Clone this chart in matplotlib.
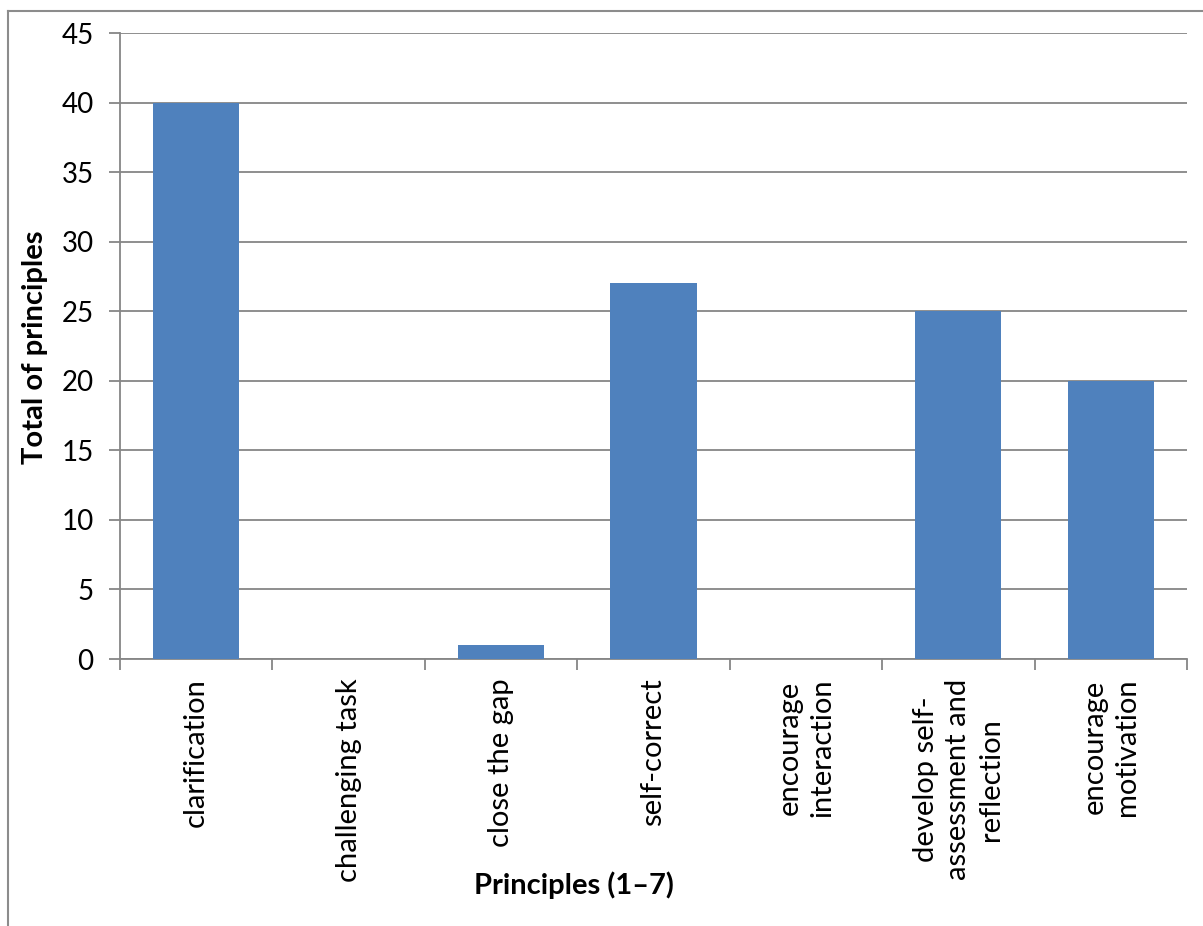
import matplotlib
matplotlib.use("Agg")
import matplotlib.pyplot as plt
from matplotlib.lines import Line2D

categories = ["clarification", "challenging task", "close the gap", "self-correct",
              "encourage\ninteraction", "develop self-\nassessment and\nreflection",
              "encourage\nmotivation"]
values = [40, 0, 1, 27, 0, 25, 20]
yticks = [0, 5, 10, 15, 20, 25, 30, 35, 40, 45]

plt.rcParams['font.family'] = ['Lato', 'DejaVu Sans']

W, H = 1203, 926
fig = plt.figure(figsize=(W/100, H/100), dpi=100)
L, R, T, B = 120, 1187, 33, 659
ax = fig.add_axes([L/W, 1-B/H, (R-L)/W, (B-T)/H])

grid_c = '#868686'
x = list(range(len(categories)))
ax.bar(x, values, width=0.565, color='#4F81BD', zorder=3)
ax.set_xlim(-0.5, len(categories)-0.5)
ax.set_ylim(0, 45)
ax.set_yticks(yticks)
ax.yaxis.grid(True, color=grid_c, lw=1.3, zorder=0)
ax.set_axisbelow(True)
for s in ['top', 'right']:
    ax.spines[s].set_visible(False)
for s in ['left', 'bottom']:
    ax.spines[s].set_color(grid_c)
    ax.spines[s].set_linewidth(1.3)

ax.set_xticks(x)
ax.set_xticklabels(categories, rotation=90, va='top', ha='center',
                   multialignment='center', fontsize=21, linespacing=1.3)
ax.tick_params(axis='x', which='major', length=0, pad=14)
ax.set_xticks([i-0.5 for i in range(len(categories)+1)], minor=True)
ax.tick_params(axis='x', which='minor', length=8, width=1.3, color=grid_c, direction='out')
ax.tick_params(axis='y', length=8, width=1.3, color=grid_c, pad=11, labelsize=20)

fig.text(35/W, 1-347/H, "Total of principles", rotation=90, ha='center', va='center',
         fontsize=21, fontweight='bold')
fig.text(574/W, 1-885/H, "Principles (1\u20137)", ha='center', va='center',
         fontsize=21, fontweight='bold')

fig.add_artist(Line2D([8/W, 8/W], [0, 1-11/H], color='#8c8c8c', lw=1.5, transform=fig.transFigure))
fig.add_artist(Line2D([8/W, 1], [1-11/H, 1-11/H], color='#8c8c8c', lw=1.5, transform=fig.transFigure))

fig.savefig("out.png", dpi=100, facecolor='white')
